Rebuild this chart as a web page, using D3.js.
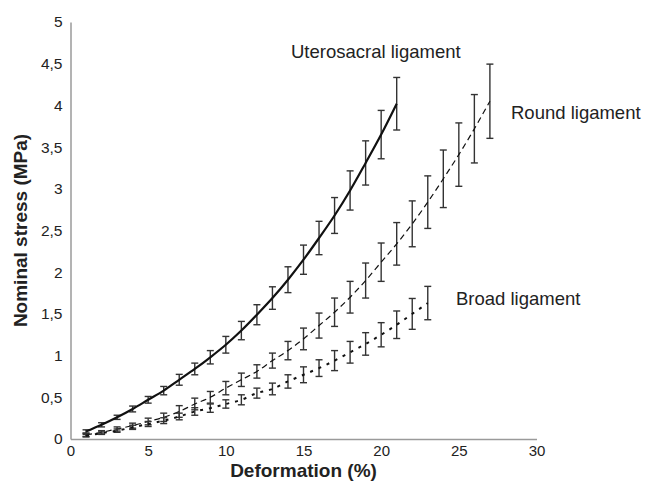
<!DOCTYPE html>
<html>
<head>
<meta charset="utf-8">
<script src="https://cdn.jsdelivr.net/npm/d3@7"></script>
<style>
  body { margin: 0; background: #fff; }
  text { font-family: "Liberation Sans", Arial, sans-serif; fill: #222; }
</style>
</head>
<body>
<svg width="646" height="486"></svg>
<script>
// deformation steps (%) and mean stress / error half-width (MPa) per ligament
var uteroX = d3.range(1, 22)
var uteroMean = [0.09, 0.17, 0.26, 0.36, 0.47, 0.58, 0.71, 0.84, 0.98, 1.13, 1.30, 1.49, 1.69, 1.91, 2.15, 2.41, 2.68, 2.98, 3.31, 3.65, 4.02]
var uteroErr = [0.02, 0.025, 0.025, 0.035, 0.04, 0.05, 0.065, 0.07, 0.08, 0.10, 0.11, 0.12, 0.135, 0.155, 0.175, 0.20, 0.215, 0.235, 0.265, 0.29, 0.315]

var roundX = d3.range(1, 28)
var roundMean = [0.05, 0.08, 0.12, 0.16, 0.21, 0.26, 0.33, 0.42, 0.50, 0.61, 0.71, 0.81, 0.94, 1.06, 1.20, 1.36, 1.52, 1.70, 1.90, 2.12, 2.34, 2.58, 2.84, 3.12, 3.41, 3.72, 4.05]
var roundErr = [0.02, 0.02, 0.025, 0.03, 0.04, 0.05, 0.07, 0.07, 0.07, 0.08, 0.08, 0.08, 0.09, 0.11, 0.13, 0.15, 0.17, 0.19, 0.21, 0.23, 0.255, 0.275, 0.315, 0.345, 0.38, 0.41, 0.445]

var broadX = d3.range(1, 24)
var broadMean = [0.04, 0.07, 0.10, 0.14, 0.18, 0.22, 0.27, 0.33, 0.37, 0.42, 0.47, 0.55, 0.60, 0.69, 0.77, 0.85, 0.94, 1.04, 1.14, 1.25, 1.37, 1.50, 1.63]
var broadErr = [0.015, 0.015, 0.02, 0.025, 0.03, 0.035, 0.04, 0.045, 0.05, 0.05, 0.06, 0.06, 0.07, 0.08, 0.095, 0.10, 0.12, 0.13, 0.135, 0.145, 0.165, 0.185, 0.2]

var xTicks = [0, 5, 10, 15, 20, 25, 30]
var yTicks = [0, 0.5, 1, 1.5, 2, 2.5, 3, 3.5, 4, 4.5, 5]
var yTickLabels = ['0', '0,5', '1', '1,5', '2', '2,5', '3', '3,5', '4', '4,5', '5']

var svg = d3.select('svg')

var x = d3.scaleLinear().domain([0, 30]).range([70.5, 536.5])
var y = d3.scaleLinear().domain([0, 5]).range([439, 22])

// axes: plain grey lines, no tick marks
var xAxis = svg.append('g').attr('transform', `translate(0,${y(0)})`)
    .call(d3.axisBottom(x).tickValues(xTicks).tickSize(0).tickPadding(6))
xAxis.select('.domain').attr('stroke', '#9a9a9a').attr('stroke-width', 1.5)
xAxis.selectAll('text').style('font-size', '15px').style('font-family', '"Liberation Sans", Arial, sans-serif').attr('fill', '#222')

var yAxis = svg.append('g').attr('transform', `translate(${x(0)},0)`)
    .call(d3.axisLeft(y).tickValues(yTicks).tickSize(0).tickPadding(8).tickFormat((d, i) => yTickLabels[i]))
yAxis.select('.domain').attr('stroke', '#9a9a9a').attr('stroke-width', 1.5)
yAxis.selectAll('text').style('font-size', '15.5px').style('font-family', '"Liberation Sans", Arial, sans-serif').attr('fill', '#222')

svg.append('text').attr('x', x(15)).attr('y', 477).attr('text-anchor', 'middle')
    .style('font-size', '19px').style('font-weight', 'bold').text('Deformation (%)')
svg.append('text').attr('transform', `translate(27,${y(2.5)}) rotate(-90)`).attr('text-anchor', 'middle')
    .style('font-size', '19px').style('font-weight', 'bold').text('Nominal stress (MPa)')

var series = [
  {name: 'Uterosacral ligament', xs: uteroX, m: uteroMean, e: uteroErr, width: 2.2, dash: null},
  {name: 'Round ligament', xs: roundX, m: roundMean, e: roundErr, width: 1.2, dash: '6,4'},
  {name: 'Broad ligament', xs: broadX, m: broadMean, e: broadErr, width: 2, dash: '3,6'}
]

var cap = 3.5
series.forEach(s => {
  var pts = s.xs.map((v, i) => ({x: v, m: s.m[i], e: s.e[i]}))
  var g = svg.append('g')
  g.selectAll('line.bar').data(pts).enter().append('line')
    .attr('x1', d => x(d.x)).attr('x2', d => x(d.x))
    .attr('y1', d => y(d.m - d.e)).attr('y2', d => y(d.m + d.e))
    .attr('stroke', '#333').attr('stroke-width', 1.4)
  g.selectAll('line.top').data(pts).enter().append('line')
    .attr('x1', d => x(d.x) - cap).attr('x2', d => x(d.x) + cap)
    .attr('y1', d => y(d.m + d.e)).attr('y2', d => y(d.m + d.e))
    .attr('stroke', '#333').attr('stroke-width', 1.4)
  g.selectAll('line.bot').data(pts).enter().append('line')
    .attr('x1', d => x(d.x) - cap).attr('x2', d => x(d.x) + cap)
    .attr('y1', d => y(d.m - d.e)).attr('y2', d => y(d.m - d.e))
    .attr('stroke', '#333').attr('stroke-width', 1.4)
  var line = d3.line().x(d => x(d.x)).y(d => y(d.m)).curve(d3.curveMonotoneX)
  g.append('path').datum(pts).attr('d', line)
    .attr('fill', 'none').attr('stroke', '#111').attr('stroke-width', s.width)
    .attr('stroke-dasharray', s.dash)
})

// curve labels
svg.append('text').attr('x', 291).attr('y', 58).style('font-size', '18.5px').text('Uterosacral ligament')
svg.append('text').attr('x', 511).attr('y', 119).style('font-size', '18.5px').text('Round ligament')
svg.append('text').attr('x', 456).attr('y', 305).style('font-size', '18.5px').text('Broad ligament')
</script>
</body>
</html>
